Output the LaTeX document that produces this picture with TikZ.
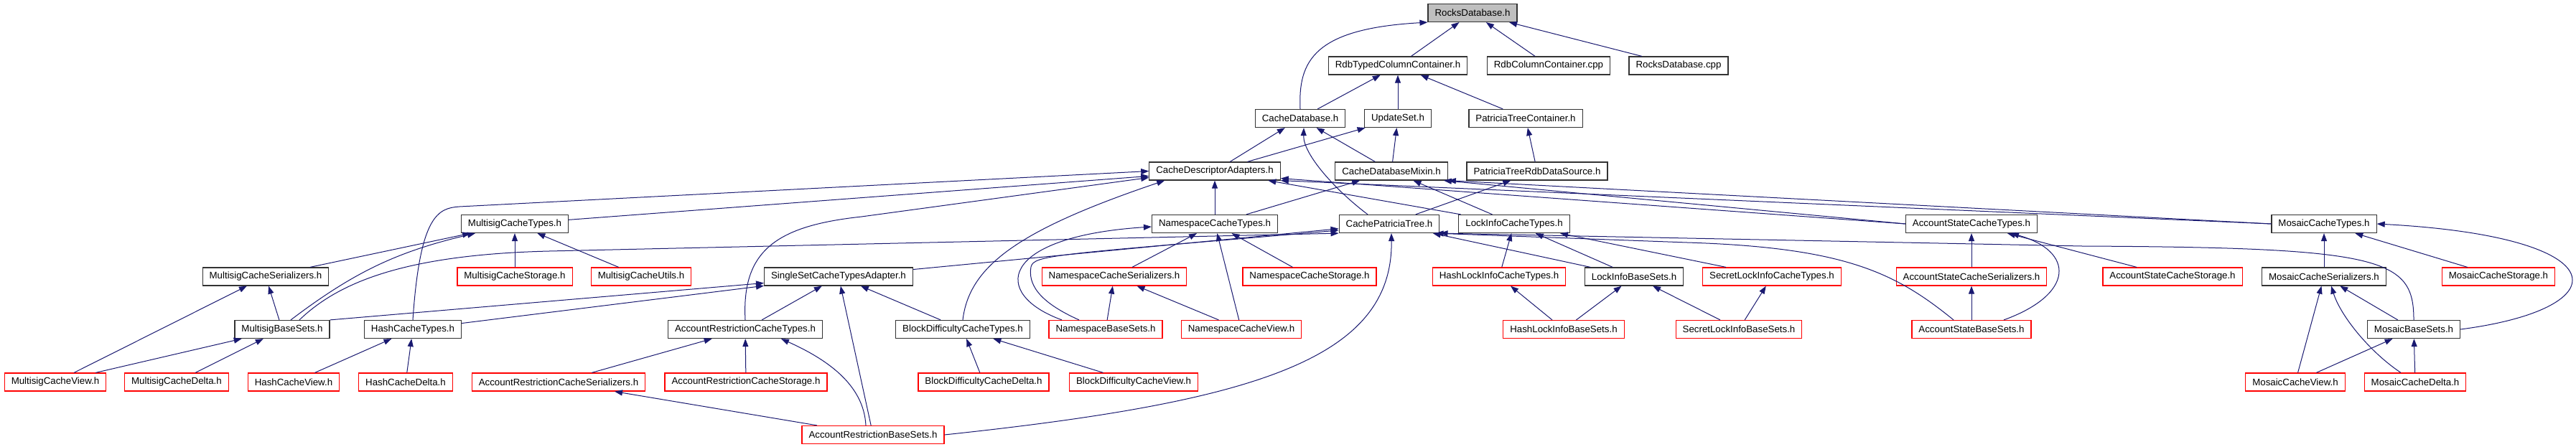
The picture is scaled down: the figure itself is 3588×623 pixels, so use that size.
\documentclass[tikz,border=0pt]{standalone}
\usepackage{fontspec}
\setmainfont{Liberation Sans}
\usepackage{xcolor}
\usetikzlibrary{arrows.meta}

\definecolor{edgeblue}{HTML}{191970}
\definecolor{rootgray}{HTML}{BFBFBF}
\definecolor{truncred}{HTML}{FF0000}

\begin{document}
\begin{tikzpicture}[x=1pt, y=1pt, font=\fontsize{13.3}{16}\selectfont,
  file/.style={draw=black!80, line width=1.2pt, fill=white, minimum height=25pt, inner xsep=9.5pt, inner ysep=0pt},
  trunc/.style={file, draw=truncred},
  root/.style={file, fill=rootgray},
  line/.style={-{Triangle[length=11pt,width=8pt]}, color=edgeblue, line width=1pt}]

\useasboundingbox (0,0) rectangle (3588,-623);

\node[root] (rocks) at (2051,-18) {RocksDatabase.h};

\node[file] (rdbtyped) at (1947,-91.5) {RdbTypedColumnContainer.h};
\node[file] (rdbcpp) at (2157,-91.5) {RdbColumnContainer.cpp};
\node[file] (rockscpp) at (2338,-91.5) {RocksDatabase.cpp};

\node[file] (cachedb) at (1811,-165) {CacheDatabase.h};
\node[file] (updateset) at (1947,-165) {UpdateSet.h};
\node[file] (ptcont) at (2125,-165) {PatriciaTreeContainer.h};

\node[file] (cda) at (1692,-238.5) {CacheDescriptorAdapters.h};
\node[file] (mixin) at (1938,-238.5) {CacheDatabaseMixin.h};
\node[file] (ptsrc) at (2141,-238.5) {PatriciaTreeRdbDataSource.h};

\node[file] (msigtypes) at (717,-312) {MultisigCacheTypes.h};
\node[file] (nstypes) at (1692,-312) {NamespaceCacheTypes.h};
\node[file] (cpt) at (1935,-312) {CachePatriciaTree.h};
\node[file] (locktypes) at (2109,-312) {LockInfoCacheTypes.h};
\node[file] (astypes) at (2746,-312) {AccountStateCacheTypes.h};
\node[file] (mostypes) at (3237,-312) {MosaicCacheTypes.h};

\node[file] (msigser) at (370,-385.5) {MultisigCacheSerializers.h};
\node[trunc] (msigstor) at (717,-385.5) {MultisigCacheStorage.h};
\node[trunc] (msigutil) at (893,-385.5) {MultisigCacheUtils.h};
\node[file] (singleset) at (1168,-385.5) {SingleSetCacheTypesAdapter.h};
\node[trunc] (nsser) at (1552,-385.5) {NamespaceCacheSerializers.h};
\node[trunc] (nsstor) at (1824,-385.5) {NamespaceCacheStorage.h};
\node[trunc] (hltypes) at (2088,-385.5) {HashLockInfoCacheTypes.h};
\node[file] (locksets) at (2276,-385.5) {LockInfoBaseSets.h};
\node[trunc] (sltypes) at (2468,-385.5) {SecretLockInfoCacheTypes.h};
\node[trunc] (asser) at (2746,-385.5) {AccountStateCacheSerializers.h};
\node[trunc] (asstor) at (3026,-385.5) {AccountStateCacheStorage.h};
\node[file] (mosser) at (3237,-385.5) {MosaicCacheSerializers.h};
\node[trunc] (mosstor) at (3480,-385.5) {MosaicCacheStorage.h};

\node[file] (msigsets) at (393,-459) {MultisigBaseSets.h};
\node[file] (hashtypes) at (575,-459) {HashCacheTypes.h};
\node[file] (artypes) at (1038,-459) {AccountRestrictionCacheTypes.h};
\node[file] (bdtypes) at (1341,-459) {BlockDifficultyCacheTypes.h};
\node[trunc] (nssets) at (1540,-459) {NamespaceBaseSets.h};
\node[trunc] (nsview) at (1729,-459) {NamespaceCacheView.h};
\node[trunc] (hlsets) at (2178,-459) {HashLockInfoBaseSets.h};
\node[trunc] (slsets) at (2422,-459) {SecretLockInfoBaseSets.h};
\node[trunc] (assets) at (2746,-459) {AccountStateBaseSets.h};
\node[file] (mossets) at (3362,-459) {MosaicBaseSets.h};

\node[trunc] (msigview) at (77,-532.5) {MultisigCacheView.h};
\node[trunc] (msigdelta) at (246,-532.5) {MultisigCacheDelta.h};
\node[trunc] (hashview) at (409,-532.5) {HashCacheView.h};
\node[trunc] (hashdelta) at (565,-532.5) {HashCacheDelta.h};
\node[trunc] (arser) at (778,-532.5) {AccountRestrictionCacheSerializers.h};
\node[trunc] (arstor) at (1039,-532.5) {AccountRestrictionCacheStorage.h};
\node[trunc] (bddelta) at (1370,-532.5) {BlockDifficultyCacheDelta.h};
\node[trunc] (bdview) at (1579,-532.5) {BlockDifficultyCacheView.h};
\node[trunc] (mosview) at (3197,-532.5) {MosaicCacheView.h};
\node[trunc] (mosdelta) at (3364,-532.5) {MosaicCacheDelta.h};

\node[trunc] (arsets) at (1216,-606) {AccountRestrictionBaseSets.h};

\draw[line] (cachedb.north) .. controls (1808,-85) and (1830,-40) .. (rocks.south west);
\draw[line] (rdbtyped) -- (rocks);
\draw[line] (rdbcpp) -- (rocks);
\draw[line] (rockscpp) -- (rocks);

\draw[line] (cachedb) -- (rdbtyped);
\draw[line] (updateset) -- (rdbtyped);
\draw[line] (ptcont) -- (rdbtyped);

\draw[line] (cda) -- (cachedb);
\draw[line] (cda) -- (updateset);
\draw[line] (mixin) -- (cachedb);
\draw[line] (mixin) -- (updateset);
\draw[line] ([xshift=-30pt]cpt.north) .. controls (1860,-265) and (1815,-215) .. ([xshift=5pt]cachedb.south);
\draw[line] (ptsrc) -- (ptcont);

\draw[line] (nstypes) -- (cda);
\draw[line] (nstypes) -- (mixin);
\draw[line] (locktypes) -- (cda);
\draw[line] (locktypes) -- (mixin);
\draw[line] (cpt) -- (ptsrc);

\draw[line] (hashtypes.north) .. controls (585,-300) and (610,-290) .. (640,-288) -- (cda.west);
\draw[line] (msigtypes) -- (cda);
\draw[line] (artypes.north) .. controls (1033,-350) and (1080,-315) .. (1200,-302) -- ([yshift=-9pt]cda.west);
\draw[line] (bdtypes.north) .. controls (1350,-370) and (1420,-320) .. ([xshift=22pt]cda.south west);

\draw[line] (astypes.west) -- ([yshift=3pt]cda.south east);
\draw[line] (mostypes.west) -- (cda.south east);
\draw[line] (astypes.west) -- ([xshift=-6pt]mixin.south east);
\draw[line] (mostypes.west) -- (mixin.south east);

\draw[line] (msigser) -- (msigtypes);
\draw[line] ([xshift=12pt]msigsets.north) to[bend left=12] ([xshift=-55pt]msigtypes.south);
\draw[line] (msigstor) -- (msigtypes);
\draw[line] (msigutil) -- (msigtypes);

\draw[line] (msigview) -- (msigser);
\draw[line] (msigsets) -- (msigser);
\draw[line] (msigview) -- (msigsets);
\draw[line] (msigdelta) -- (msigsets);

\draw[line] (hashview) -- (hashtypes);
\draw[line] (hashdelta) -- (hashtypes);

\draw[line] (msigsets.north east) -- ([yshift=-9pt]singleset.west);
\draw[line] (hashtypes) -- (singleset);
\draw[line] (artypes) -- (singleset);
\draw[line] (bdtypes) -- (singleset);
\draw[line] (arsets) -- (singleset);

\draw[line] (arser) -- (artypes);
\draw[line] (arstor) -- (artypes);
\draw[line] ([xshift=-10pt]arsets.north) .. controls (1203,-535) and (1150,-500) .. ([xshift=50pt]artypes.south);
\draw[line] (arsets) -- (arser);

\draw[line] (bddelta) -- (bdtypes);
\draw[line] (bdview) -- (bdtypes);

\draw[line] (nsser) -- (nstypes);
\draw[line] (nsstor) -- (nstypes);
\draw[line] (nsview) -- (nstypes);
\draw[line] ([xshift=-61pt]nssets.north) .. controls (1380,-410) and (1390,-330) .. ([yshift=-4pt]nstypes.west);
\draw[line] (nssets) -- (nsser);
\draw[line] (nsview) -- (nsser);

\draw[line] ([xshift=24pt]msigsets.north) .. controls (470,-395) and (560,-355) .. (765,-350) -- (cpt.south west);
\draw[line] (singleset) -- (cpt);
\draw[line] ([xshift=-37pt]nssets.north) .. controls (1445,-420) and (1432,-395) .. (1436,-372) .. controls (1440,-355) and (1470,-355) .. ([yshift=-9pt]cpt.west);
\draw[line] (arsets.east) .. controls (1750,-560) and (1940,-500) .. ([xshift=3pt]cpt.south);
\draw[line] (locksets) -- (cpt);
\draw[line] ([xshift=-25pt]assets.north) .. controls (2640,-380) and (2570,-345) .. (2350,-338) -- ([xshift=-6pt]cpt.south east);
\draw[line] (mossets.north) .. controls (3362,-360) and (3320,-345) .. (2900,-343) -- (cpt.south east);

\draw[line] (hltypes) -- (locktypes);
\draw[line] (locksets) -- (locktypes);
\draw[line] (sltypes) -- (locktypes);
\draw[line] (hlsets) -- (locksets);
\draw[line] (slsets) -- (locksets);
\draw[line] (hlsets) -- (hltypes);
\draw[line] (slsets) -- (sltypes);

\draw[line] (asser) -- (astypes);
\draw[line] (asstor) -- (astypes);
\draw[line] ([xshift=45pt]assets.north) .. controls (2890,-410) and (2890,-350) .. ([xshift=55pt]astypes.south);
\draw[line] (assets) -- (asser);

\draw[line] (mosser) -- (mostypes);
\draw[line] (mosstor) -- (mostypes);
\draw[line] (mossets.east) .. controls (3650,-430) and (3650,-330) .. (mostypes.east);
\draw[line] (mosview) -- (mosser);
\draw[line] ([xshift=-20pt]mosdelta.north) .. controls (3300,-490) and (3260,-440) .. ([xshift=10pt]mosser.south);
\draw[line] (mossets) -- (mosser);
\draw[line] (mosview) -- (mossets);
\draw[line] (mosdelta) -- (mossets);
\end{tikzpicture}
\end{document}
